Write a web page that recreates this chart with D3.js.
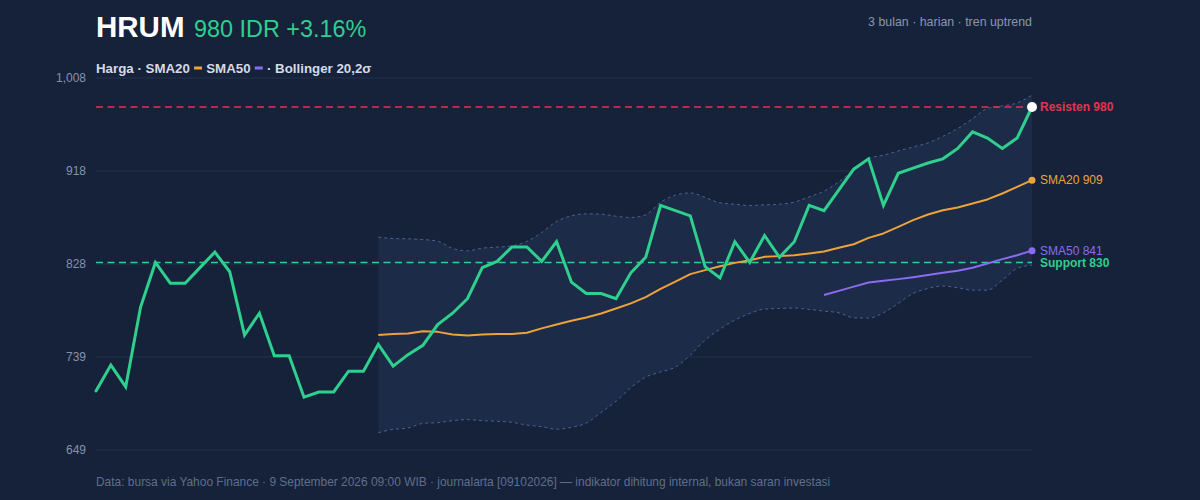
<!DOCTYPE html>
<html>
<head>
<meta charset="utf-8">
<script src="https://cdn.jsdelivr.net/npm/d3@7"></script>
<style>
  html, body { margin: 0; padding: 0; background: #16223a; }
  svg { display: block; }
  text { font-family: "Liberation Sans", Arial, Helvetica, sans-serif; }
</style>
</head>
<body>
<svg id="chart" width="1200" height="500"></svg>
<script>
// ---- data ----
const ticker = "HRUM";
const lastPriceText = "980 IDR +3.16%";
const subtitle = "3 bulan · harian · tren uptrend";
const footer = "Data: bursa via Yahoo Finance · 9 September 2026 09:00 WIB · journalarta [09102026] — indikator dihitung internal, bukan saran investasi";

const price = [706, 731, 710, 787, 830, 810, 810, 825, 840, 821, 760, 781, 740, 740, 700, 705,
  705, 725, 725, 751, 730, 741, 750, 770, 781, 795, 825, 831, 845, 845, 831, 850,
  811, 800, 800, 795, 820, 835, 885, 880, 875, 826, 815, 850, 830, 856, 835, 850,
  885, 880, 900, 920, 930, 885, 916, 921, 926, 930, 940, 956, 950, 940, 950, 980];

const sma20Start = 19;
const sma20 = [760, 761, 761.5, 763.5, 763, 760.5, 759.6, 760.5, 760.9, 760.9, 762.1, 766.4, 770.2,
  773.7, 776.8, 780.8, 785.6, 790.5, 796.5, 804.5, 811.5, 818.7, 822.6, 826.4, 829.6, 832.2,
  835.4, 836.1, 837, 838.7, 840.6, 844.1, 847.6, 853.7, 858, 864.3, 870.8, 876.3, 880.4, 883,
  886.9, 890.8, 896.5, 902.9, 909.4];

const sma50Start = 49;
const sma50 = [798.5, 802.6, 806.7, 810.7, 812.3, 813.9, 815.8, 817.8, 820, 822, 824.8, 829, 833.2, 837, 841.4];

const bandUpper = [854.4, 853.1, 852.8, 852.1, 850.5, 843.5, 841.2, 843.8, 844.8, 846, 850.3, 859,
  869.5, 875, 876.9, 876.6, 874.6, 873.4, 876, 888, 894.9, 897.1, 892.7, 887.5, 886.2, 885,
  885.6, 886.2, 888.2, 893.3, 898.8, 907.8, 919, 930.3, 933.5, 937.6, 941.5, 945.3, 951.8,
  959.2, 968.8, 978.5, 981, 983.9, 991.6];
const bandLower = [665.7, 668.9, 670.2, 674.7, 675.4, 677.3, 678.3, 677.3, 676.7, 675.7, 673.1, 671.5,
  669, 670.9, 675, 685.2, 696, 709.2, 719.4, 724.3, 729, 740.6, 755.1, 765.7, 774.4, 780.8,
  785, 785.6, 786, 784.7, 783, 781.4, 776.6, 776.3, 781.4, 790.5, 800.1, 804.9, 807.2, 805.6,
  803.3, 803.3, 812.9, 824.3, 827.4];

const resistance = 980;
const support = 830;
const yDomain = [649, 1008];
const yTickValues = [649, 738.75, 828.5, 918.25, 1008];
const yTickLabels = ["649", "739", "828", "918", "1,008"];

const legendParts = [
  { text: "Harga · SMA20 ", swatch: null },
  { text: "", swatch: "sma20" },
  { text: " SMA50 ", swatch: null },
  { text: "", swatch: "sma50" },
  { text: " · Bollinger 20,2σ", swatch: null }
];

// ---- styles ----
const C = {
  bg: "#16223a", grid: "#1f2c47", band: "#1c2b48", bandLine: "#4b6192",
  price: "#2fcf8e", sma20: "#eea238", sma50: "#8b6cf0", res: "#e3334f",
  tick: "#8393ad", sub: "#8797b1", legend: "#d3dbe8", footer: "#5f6e8b"
};

const svg = d3.select("#chart");
svg.append("rect").attr("width", 1200).attr("height", 500).attr("fill", C.bg);

const x = d3.scaleLinear().domain([0, price.length - 1]).range([96, 1032]);
const y = d3.scaleLinear().domain(yDomain).range([450, 78]);

// grid + y axis
const yAxis = d3.axisLeft(y).tickValues(yTickValues)
  .tickFormat((d, i) => yTickLabels[i]).tickSize(0).tickPadding(10);
const gA = svg.append("g").attr("transform", "translate(96,0)").call(yAxis);
gA.select(".domain").remove();
gA.selectAll("text").attr("fill", C.tick).attr("font-size", 12)
  .attr("font-family", "Liberation Sans, Arial, sans-serif");

svg.append("g").selectAll("line").data(yTickValues).join("line")
  .attr("x1", 96).attr("x2", 1032)
  .attr("y1", d => y(d)).attr("y2", d => y(d))
  .attr("stroke", C.grid).attr("stroke-width", 1.5);

// bollinger band
const bandData = bandUpper.map((u, i) => ({ i: i + sma20Start, u, l: bandLower[i] }));
svg.append("path").datum(bandData)
  .attr("d", d3.area().x(d => x(d.i)).y0(d => y(d.l)).y1(d => y(d.u)).curve(d3.curveMonotoneX))
  .attr("fill", C.band);
["u", "l"].forEach(k => {
  svg.append("path").datum(bandData)
    .attr("d", d3.line().x(d => x(d.i)).y(d => y(d[k])).curve(d3.curveMonotoneX))
    .attr("fill", "none").attr("stroke", C.bandLine).attr("stroke-width", 1)
    .attr("stroke-dasharray", "3,3");
});

// resistance & support lines
svg.append("line").attr("x1", 96).attr("x2", 1032)
  .attr("y1", y(resistance)).attr("y2", y(resistance))
  .attr("stroke", C.res).attr("stroke-width", 1.5).attr("stroke-dasharray", "7,4.5");
svg.append("line").attr("x1", 96).attr("x2", 1032)
  .attr("y1", y(support)).attr("y2", y(support))
  .attr("stroke", C.price).attr("stroke-width", 1.5).attr("stroke-dasharray", "7,4.5");

// SMA lines
const sma20Data = sma20.map((v, i) => ({ i: i + sma20Start, v }));
const sma50Data = sma50.map((v, i) => ({ i: i + sma50Start, v }));
const lineV = d3.line().x(d => x(d.i)).y(d => y(d.v));
svg.append("path").datum(sma20Data).attr("d", lineV)
  .attr("fill", "none").attr("stroke", C.sma20).attr("stroke-width", 2).attr("stroke-linejoin", "round");
svg.append("path").datum(sma50Data).attr("d", lineV)
  .attr("fill", "none").attr("stroke", C.sma50).attr("stroke-width", 2).attr("stroke-linejoin", "round");

// price line
svg.append("path").datum(price.map((v, i) => ({ i, v })))
  .attr("d", d3.line().x(d => x(d.i)).y(d => y(d.v)))
  .attr("fill", "none").attr("stroke", C.price).attr("stroke-width", 3)
  .attr("stroke-linejoin", "miter").attr("stroke-linecap", "round");

// end markers
const lastI = price.length - 1;
svg.append("circle").attr("cx", x(lastI)).attr("cy", y(sma20[sma20.length - 1])).attr("r", 3.5).attr("fill", C.sma20);
svg.append("circle").attr("cx", x(lastI)).attr("cy", y(sma50[sma50.length - 1])).attr("r", 3.5).attr("fill", C.sma50);
svg.append("circle").attr("cx", x(lastI)).attr("cy", y(price[lastI])).attr("r", 5).attr("fill", "#ffffff");

// right labels
const rl = [
  { t: "Resisten " + resistance, v: resistance, c: C.res, w: "bold" },
  { t: "SMA20 " + Math.round(sma20[sma20.length - 1]), v: sma20[sma20.length - 1], c: C.sma20, w: "normal" },
  { t: "SMA50 " + Math.floor(sma50[sma50.length - 1]), v: sma50[sma50.length - 1], c: C.sma50, w: "normal" },
  { t: "Support " + support, v: support, c: C.price, w: "bold" }
];
svg.append("g").selectAll("text").data(rl).join("text")
  .attr("x", 1040).attr("y", d => y(d.v) + 4.3)
  .attr("fill", d => d.c).attr("font-size", 12).attr("font-weight", d => d.w)
  .text(d => d.t);

// title
const title = svg.append("text").attr("x", 96).attr("y", 37);
title.append("tspan").attr("font-size", 29.5).attr("font-weight", "bold").attr("fill", "#ffffff").text(ticker);
title.append("tspan").attr("dx", 9.5).attr("font-size", 23.4).attr("fill", C.price).text(lastPriceText);

svg.append("text").attr("x", 1032).attr("y", 26).attr("text-anchor", "end")
  .attr("font-size", 12.4).attr("fill", C.sub).text(subtitle);

// legend
let lx = 96;
legendParts.forEach(p => {
  if (p.swatch) {
    svg.append("rect").attr("x", lx + 0.5).attr("y", 66.5).attr("width", 8).attr("height", 3)
      .attr("fill", C[p.swatch]);
    lx += 9;
  } else {
    const t = svg.append("text").attr("x", lx).attr("y", 73)
      .attr("font-size", 13.3).attr("font-weight", "bold").attr("fill", C.legend)
      .attr("xml:space", "preserve").style("white-space", "pre").text(p.text);
    lx += t.node().getComputedTextLength();
  }
});

// footer
svg.append("text").attr("x", 96).attr("y", 486).attr("font-size", 11.95)
  .attr("fill", C.footer).text(footer);
</script>
</body>
</html>
